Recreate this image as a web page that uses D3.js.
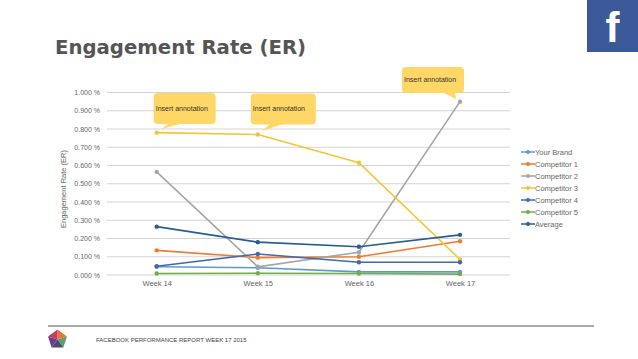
<!DOCTYPE html>
<html>
<head>
<meta charset="utf-8">
<script src="https://cdn.jsdelivr.net/npm/d3@7"></script>
<style>
  html, body { margin: 0; padding: 0; background: #fff; overflow: hidden; }
  text { font-family: "Liberation Sans", Arial, sans-serif; }
</style>
</head>
<body>
<div id="canvas"></div>
<script>
"use strict"

/* chart data */
let weeks = ["Week 14", "Week 15", "Week 16", "Week 17"];
let seriesNames = ["Your Brand", "Competitor 1", "Competitor 2", "Competitor 3", "Competitor 4", "Competitor 5", "Average"];
let seriesColors = ["#5b9bd5", "#ed7d31", "#a5a5a5", "#f4c534", "#4169b0", "#70ad47", "#255e91"];
let yourBrand = [0.045, 0.04, 0.017, 0.017];
let competitor1 = [0.135, 0.095, 0.10, 0.185];
let competitor2 = [0.565, 0.045, 0.125, 0.95];
let competitor3 = [0.78, 0.77, 0.615, 0.085];
let competitor4 = [0.048, 0.115, 0.07, 0.07];
let competitor5 = [0.008, 0.01, 0.008, 0.005];
let average = [0.265, 0.18, 0.155, 0.22];
let seriesValues = [yourBrand, competitor1, competitor2, competitor3, competitor4, competitor5, average];
let yTicks = [0, 0.1, 0.2, 0.3, 0.4, 0.5, 0.6, 0.7, 0.8, 0.9, 1];

/* note boxes: which week and value the tail points at */
let noteWeeks = ["Week 14", "Week 15", "Week 17"];
let noteValues = [0.78, 0.77, 0.95];

let svgWidth = 638;
let svgHeight = 359;

let svg = d3.select("#canvas")
    .append("svg")
    .attr("width", svgWidth)
    .attr("height", svgHeight)
    .style("display", "block");

/* x is a point scale so week 14 starts half a step in from the axis */
let xScale = d3.scalePoint()
    .domain(weeks)
    .range([156.7, 460]);

let yScale = d3.scaleLinear()
    .domain([0, 1])
    .range([275, 92.5]);

/* title */
svg.append("text")
    .attr("x", 55)
    .attr("y", 54)
    .style("font-family", "'DejaVu Sans', sans-serif")
    .attr("font-size", 19.7)
    .attr("font-weight", "bold")
    .attr("fill", "#555555")
    .text("Engagement Rate (ER)");

/* facebook square */
svg.append("rect")
    .attr("x", 587)
    .attr("y", 0)
    .attr("width", 51)
    .attr("height", 52)
    .attr("fill", "#3b5998");

svg.append("text")
    .attr("x", 612.5)
    .attr("y", 42)
    .attr("text-anchor", "middle")
    .attr("font-size", 42)
    .attr("font-weight", "bold")
    .attr("fill", "#ffffff")
    .text("f");

/* gridlines and y labels */
svg.selectAll(".grid")
    .data(yTicks)
    .join("line")
    .attr("class", "grid")
    .attr("x1", 107)
    .attr("x2", 510)
    .attr("y1", function (value) { return yScale(value); })
    .attr("y2", function (value) { return yScale(value); })
    .attr("stroke", "#d4d4d4")
    .attr("stroke-width", 1);

svg.selectAll(".ylabel")
    .data(yTicks)
    .join("text")
    .attr("class", "ylabel")
    .attr("x", 100)
    .attr("y", function (value) { return yScale(value) + 2.5; })
    .attr("text-anchor", "end")
    .attr("font-size", 7)
    .attr("fill", "#666666")
    .text(function (value) { return value.toFixed(3) + " %"; });

svg.selectAll(".xlabel")
    .data(weeks)
    .join("text")
    .attr("class", "xlabel")
    .attr("x", function (value) { return xScale(value) + 0.5; })
    .attr("y", 286)
    .attr("text-anchor", "middle")
    .attr("font-size", 7.5)
    .attr("fill", "#666666")
    .text(function (value) { return value; });

svg.append("text")
    .attr("transform", "translate(65.5,189) rotate(-90)")
    .attr("text-anchor", "middle")
    .attr("font-size", 7.5)
    .attr("fill", "#666666")
    .text("Engagement Rate (ER)");

/* one line and its dots per series */
let line = d3.line()
    .x(function (value, index) { return xScale(weeks[index]); })
    .y(function (value) { return yScale(value); });

for (let i = 0; i < seriesNames.length; i++) {
    svg.append("path")
        .attr("d", line(seriesValues[i]))
        .attr("fill", "none")
        .attr("stroke", seriesColors[i])
        .attr("stroke-width", 1.6);

    svg.selectAll(".dot" + i)
        .data(seriesValues[i])
        .join("circle")
        .attr("class", "dot" + i)
        .attr("cx", function (value, index) { return xScale(weeks[index]); })
        .attr("cy", function (value) { return yScale(value); })
        .attr("r", 2.2)
        .attr("fill", seriesColors[i]);
}

/* legend */
for (let i = 0; i < seriesNames.length; i++) {
    let legendY = 152 + i * 12;
    svg.append("line")
        .attr("x1", 521)
        .attr("x2", 535)
        .attr("y1", legendY)
        .attr("y2", legendY)
        .attr("stroke", seriesColors[i])
        .attr("stroke-width", 1.5);
    svg.append("circle")
        .attr("cx", 528)
        .attr("cy", legendY)
        .attr("r", 2)
        .attr("fill", seriesColors[i]);
    svg.append("text")
        .attr("x", 535)
        .attr("y", legendY + 2.7)
        .attr("font-size", 7.5)
        .attr("fill", "#666666")
        .text(seriesNames[i]);
}

/* note boxes, offsets are from the point the tail touches */
let noteBoxWidth = [62, 65, 62];
let noteBoxDx = [-3, -7, -58];
let noteBoxDy = [-8.6, -10, -8.6];
let noteBoxHeight = [31, 31, 26];
for (let i = 0; i < noteWeeks.length; i++) {
    let px = xScale(noteWeeks[i]);
    let py = yScale(noteValues[i]);
    let boxBottom = py + noteBoxDy[i];
    let boxLeft = px + noteBoxDx[i];
    let boxTop = boxBottom - noteBoxHeight[i];

    /* tail */
    let tail = i < 2
        ? [[px + 13, boxBottom - 1], [px + 27, boxBottom - 1], [px + 4, py - 3.5]]
        : [[px - 18, boxBottom - 1], [px - 5, boxBottom - 1], [px - 4, py - 2.6]];
    svg.append("path")
        .attr("d", "M" + tail.join("L") + "Z")
        .attr("fill", "#ffd766");

    svg.append("rect")
        .attr("x", boxLeft)
        .attr("y", boxTop)
        .attr("width", noteBoxWidth[i])
        .attr("height", noteBoxHeight[i])
        .attr("rx", 4)
        .attr("fill", "#ffd766");

    svg.append("text")
        .attr("x", boxLeft + 2)
        .attr("y", boxTop + 17.5 - (i == 2 ? 2.5 : 0))
        .attr("font-size", 7)
        .attr("fill", "#333333")
        .text("Insert annotation");
}

/* footer */
svg.append("line")
    .attr("x1", 48)
    .attr("x2", 594)
    .attr("y1", 326)
    .attr("y2", 326)
    .attr("stroke", "#555555")
    .attr("stroke-width", 1);

let logoColors = ["#e8743b", "#5f9e6e", "#4a4a6a", "#6a3d8f", "#c2405a"];
let logoCenter = [57.5, 339.5];
let pentagon = d3.range(5).map(function (k) {
    let angle = -Math.PI / 2 + k * 2 * Math.PI / 5;
    return [logoCenter[0] + 10 * Math.cos(angle), logoCenter[1] + 10 * Math.sin(angle)];
});
for (let k = 0; k < 5; k++) {
    svg.append("path")
        .attr("d", "M" + [logoCenter, pentagon[k], pentagon[(k + 1) % 5]].join("L") + "Z")
        .attr("fill", logoColors[k]);
}

svg.append("text")
    .attr("x", 96)
    .attr("y", 341.5)
    .attr("font-size", 6)
    .attr("fill", "#444444")
    .text("FACEBOOK PERFORMANCE REPORT WEEK 17 2015");
</script>
</body>
</html>
